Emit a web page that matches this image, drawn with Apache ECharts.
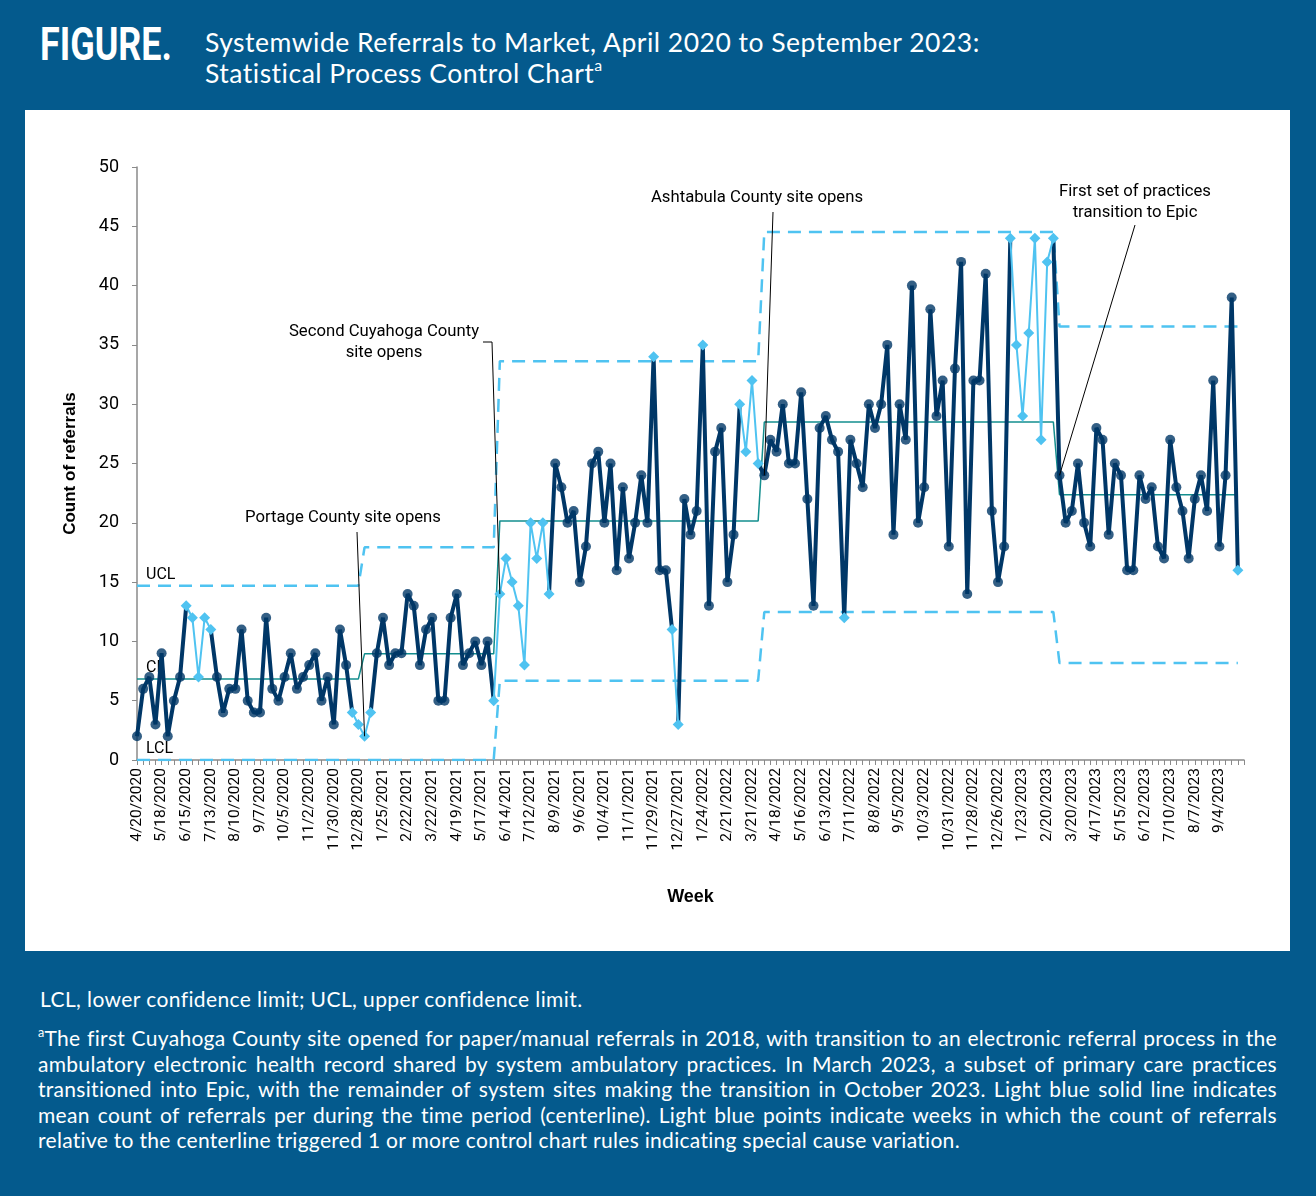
<!DOCTYPE html>
<html>
<head>
<meta charset="utf-8">
<script src="https://cdn.jsdelivr.net/npm/echarts/dist/echarts.min.js"></script>
<style>
  html, body { margin: 0; padding: 0; }
  body { width: 1316px; height: 1196px; background: #045a8d; position: relative; overflow: hidden; font-family: Lato, "Noto Sans", sans-serif; color: #fff; }
  #fig { position: absolute; left: 40px; top: 19px; font: 700 46px Roboto, sans-serif; transform: scaleX(0.78); transform-origin: left top; line-height: 50px; }
  #title { position: absolute; left: 205px; top: 27px; font-size: 26.5px; letter-spacing: 0.5px; line-height: 31px; }
  #title sup, #foot sup { font-size: 60%; line-height: 0; vertical-align: 0.75em; }
  #chart { position: absolute; left: 25px; top: 110px; width: 1265px; height: 841px; background: #fff; }
  #abbr { position: absolute; left: 40px; top: 986px; font-size: 21px; letter-spacing: 0.4px; line-height: 25px; }
  #foot { position: absolute; left: 38px; top: 1025px; width: 1239px; font-size: 21px; letter-spacing: 0.3px; line-height: 25.5px; }
  #foot div { text-align: justify; text-align-last: justify; white-space: nowrap; }
  #foot div.last { text-align-last: left; }
</style>
</head>
<body>
<div id="fig">FIGURE.</div>
<div id="title">Systemwide Referrals to Market, April 2020 to September 2023:<br>Statistical Process Control Chart<sup>a</sup></div>
<div id="chart"></div>
<div id="abbr">LCL, lower confidence limit; UCL, upper confidence limit.</div>
<div id="foot">
  <div><sup>a</sup>The first Cuyahoga County site opened for paper/manual referrals in 2018, with transition to an electronic referral process in the</div>
  <div>ambulatory electronic health record shared by system ambulatory practices. In March 2023, a subset of primary care practices</div>
  <div>transitioned into Epic, with the remainder of system sites making the transition in October 2023. Light blue solid line indicates</div>
  <div>mean count of referrals per during the time period (centerline). Light blue points indicate weeks in which the count of referrals</div>
  <div class="last">relative to the centerline triggered 1 or more control chart rules indicating special cause variation.</div>
</div>
<script>
// ---------- data ----------
const firstWeek = [2020, 4, 20];      // 4/20/2020
const weekCount = 181;                // categories on the axis (weekly)
const labelEvery = 4;                 // a date label every 4 weeks
const lastLabelWeek = 176;            // 9/4/2023
const referrals = [
  2, 6, 7, 3, 9, 2, 5, 7, 13, 12,
  7, 12, 11, 7, 4, 6, 6, 11, 5, 4,
  4, 12, 6, 5, 7, 9, 6, 7, 8, 9,
  5, 7, 3, 11, 8, 4, 3, 2, 4, 9,
  12, 8, 9, 9, 14, 13, 8, 11, 12, 5,
  5, 12, 14, 8, 9, 10, 8, 10, 5, 14,
  17, 15, 13, 8, 20, 17, 20, 14, 25, 23,
  20, 21, 15, 18, 25, 26, 20, 25, 16, 23,
  17, 20, 24, 20, 34, 16, 16, 11, 3, 22,
  19, 21, 35, 13, 26, 28, 15, 19, 30, 26,
  32, 25, 24, 27, 26, 30, 25, 25, 31, 22,
  13, 28, 29, 27, 26, 12, 27, 25, 23, 30,
  28, 30, 35, 19, 30, 27, 40, 20, 23, 38,
  29, 32, 18, 33, 42, 14, 32, 32, 41, 21,
  15, 18, 44, 35, 29, 36, 44, 27, 42, 44,
  24, 20, 21, 25, 20, 18, 28, 27, 19, 25,
  24, 16, 16, 24, 22, 23, 18, 17, 27, 23,
  21, 17, 22, 24, 21, 32, 18, 24, 39, 16
];
// weeks (indices) flagged as special-cause variation (light blue points)
const specialWeeks = [8, 9, 10, 11, 12, 35, 36, 37, 38, 58, 59, 60, 61, 62, 63, 64, 65, 66, 67,
  84, 87, 88, 92, 98, 99, 100, 101, 115, 142, 143, 144, 145, 146, 147, 148, 149, 179];
// control-chart phases
const phaseStart = [0, 37, 59, 102, 150];
const phaseEnd   = [36, 58, 101, 149, 179];
const uclValues  = [14.69, 17.93, 33.63, 44.52, 36.56];
const clValues   = [6.84, 8.95, 20.16, 28.5, 22.37];
const lclValues  = [0, 0, 6.69, 12.48, 8.18];
// annotations
const noteTexts = ['Portage County site opens', 'Second Cuyahoga County\nsite opens', 'Ashtabula County site opens', 'First set of practices\ntransition to Epic'];
const noteWeeks = [37, 59, 102, 150];

// ---------- build ----------
const weeks = [];
for (let i = 0; i < weekCount; i++) {
  const d = new Date(Date.UTC(firstWeek[0], firstWeek[1] - 1, firstWeek[2] + 7 * i));
  weeks.push((d.getUTCMonth() + 1) + '/' + d.getUTCDate() + '/' + d.getUTCFullYear());
}
const isSpecial = referrals.map((v, i) => specialWeeks.indexOf(i) >= 0);
const darkA = referrals.map(() => null), darkB = referrals.map(() => null);
let run = 0;
referrals.forEach((v, i) => {
  if (i > 0 && isSpecial[i] && isSpecial[i - 1]) run++;
  (run % 2 === 0 ? darkA : darkB)[i] = v;
});
const darkPts = [], lightLine = [];
referrals.forEach((v, i) => {
  if (!isSpecial[i]) darkPts.push([i, v]);
  lightLine.push(isSpecial[i] ? v : null);
});
function stepLine(vals) {
  const out = [];
  vals.forEach((v, k) => { out.push([phaseStart[k], v]); out.push([phaseEnd[k], v]); });
  return out;
}

const NAVY = '#003767', LIGHT = '#4fc3f1', TEAL = '#138e8e', AXIS = '#8a8a8a';
const chart = echarts.init(document.getElementById('chart'));
const option = {
  animation: false,
  textStyle: { fontFamily: 'Roboto' },
  grid: { left: 112, right: 46, top: 57, bottom: 191 },
  xAxis: {
    type: 'category', data: weeks, boundaryGap: false,
    axisLine: { lineStyle: { color: AXIS, width: 1.5 } },
    axisTick: { interval: 0, length: 5, lineStyle: { color: AXIS } },
    axisLabel: {
      interval: (idx) => idx % labelEvery === 0 && idx <= lastLabelWeek,
      rotate: 90, fontSize: 15.5, color: '#000', margin: 8, fontFamily: 'Roboto'
    },
    name: 'Week', nameLocation: 'middle', nameGap: 128,
    nameTextStyle: { fontWeight: 'bold', fontSize: 18, color: '#000', fontFamily: 'Liberation Sans' }
  },
  yAxis: {
    type: 'value', min: 0, max: 50, interval: 5,
    splitLine: { show: false },
    axisLine: { show: true, lineStyle: { color: AXIS, width: 1.5 } },
    axisTick: { show: true, length: 5, lineStyle: { color: AXIS } },
    axisLabel: { fontSize: 18, color: '#000', margin: 18, fontFamily: 'Roboto' },
    name: 'Count of referrals', nameLocation: 'middle', nameGap: 58, nameRotate: 90,
    nameTextStyle: { fontWeight: 'bold', fontSize: 17, color: '#000', fontFamily: 'Liberation Sans' }
  },
  series: [
    { name: 'UCL', type: 'line', data: stepLine(uclValues), symbol: 'none', z: 2,
      lineStyle: { color: LIGHT, width: 2.5, type: [13, 8] } },
    { name: 'CL', type: 'line', data: stepLine(clValues), symbol: 'none', z: 2,
      lineStyle: { color: TEAL, width: 1.5 } },
    { name: 'LCL', type: 'line', data: stepLine(lclValues), symbol: 'none', z: 2,
      lineStyle: { color: LIGHT, width: 2.5, type: [13, 8] } },
    { name: 'refA', type: 'line', data: darkA, symbol: 'none', connectNulls: false, z: 3,
      lineStyle: { color: NAVY, width: 4 } },
    { name: 'refB', type: 'line', data: darkB, symbol: 'none', connectNulls: false, z: 3,
      lineStyle: { color: NAVY, width: 4 } },
    { name: 'points', type: 'scatter', data: darkPts, symbol: 'circle', symbolSize: 10, z: 4,
      itemStyle: { color: NAVY } },
    { name: 'special', type: 'line', data: lightLine, connectNulls: false, symbol: 'diamond', symbolSize: 11,
      showSymbol: true, showAllSymbol: true, z: 5,
      lineStyle: { color: LIGHT, width: 2 }, itemStyle: { color: LIGHT } }
  ]
};
chart.setOption(option);

function px(i) { return chart.convertToPixel({ xAxisIndex: 0, yAxisIndex: 0 }, [i, referrals[i]]); }
const txt = { fill: '#000', font: '16.7px Roboto', align: 'center', verticalAlign: 'middle', lineHeight: 21 };
const p0 = px(noteWeeks[0]), p1 = px(noteWeeks[1]), p2 = px(noteWeeks[2]), p3 = px(noteWeeks[3]);
const lineStyle = { stroke: '#000', lineWidth: 1 };
chart.setOption({
  graphic: [
    { type: 'text', left: 121, top: 457, style: { text: 'UCL', fill: '#000', font: '16px Roboto' } },
    { type: 'text', left: 121, top: 550, style: { text: 'CL', fill: '#000', font: '16px Roboto' } },
    { type: 'text', left: 121, top: 631, style: { text: 'LCL', fill: '#000', font: '16px Roboto' } },
    { type: 'text', x: 318, y: 408, style: Object.assign({ text: noteTexts[0] }, txt) },
    { type: 'text', x: 359, y: 232, style: Object.assign({ text: noteTexts[1] }, txt) },
    { type: 'text', x: 732, y: 88, style: Object.assign({ text: noteTexts[2] }, txt) },
    { type: 'text', x: 1110, y: 92, style: Object.assign({ text: noteTexts[3] }, txt) },
    { type: 'polyline', z: 100, shape: { points: [[332, 422], p0] }, style: lineStyle },
    { type: 'polyline', z: 100, shape: { points: [[458, 232], [467, 232], p1] }, style: lineStyle },
    { type: 'polyline', z: 100, shape: { points: [[748, 102], p2] }, style: lineStyle },
    { type: 'polyline', z: 100, shape: { points: [[1110, 115], p3] }, style: lineStyle }
  ]
});
</script>
</body>
</html>
